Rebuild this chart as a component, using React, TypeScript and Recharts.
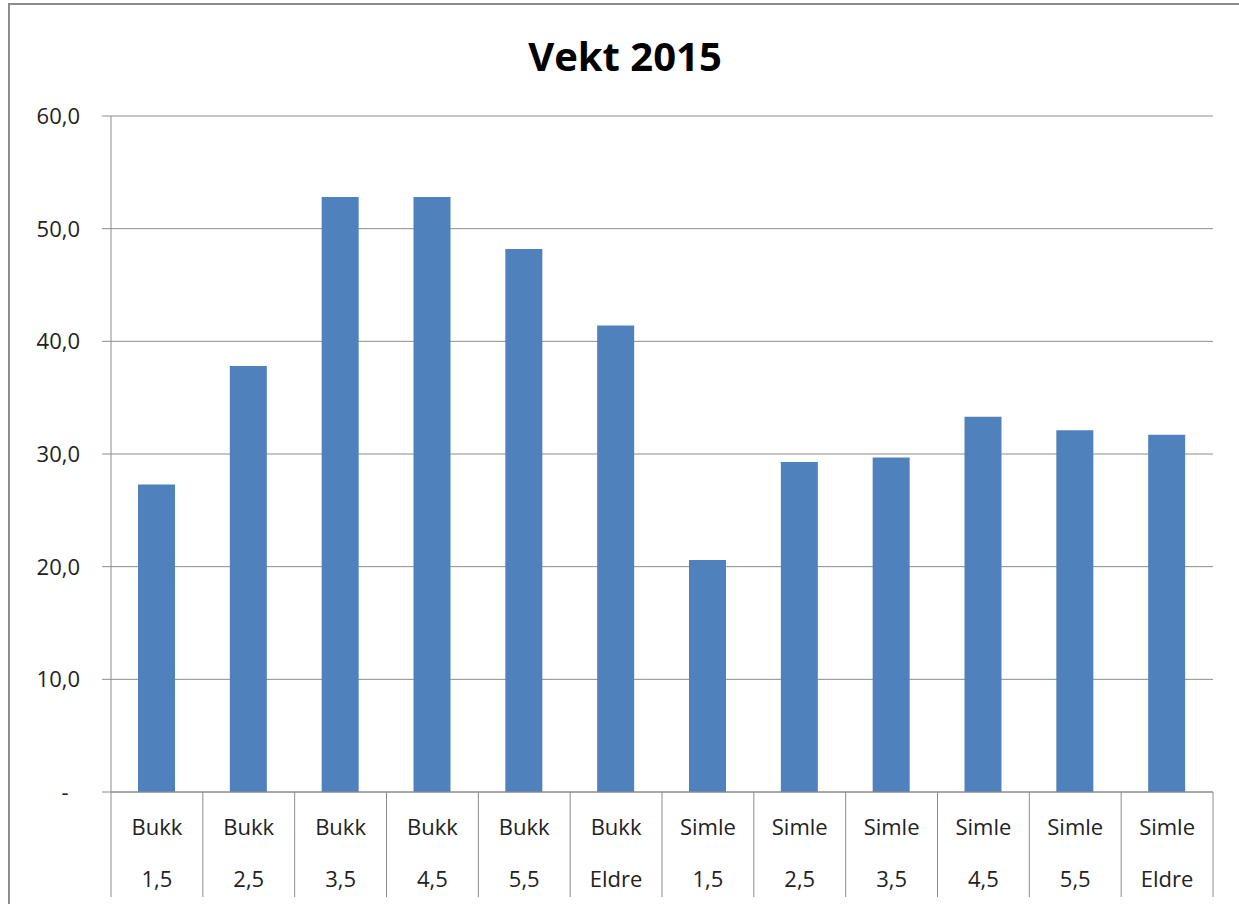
import { BarChart, Bar, XAxis, YAxis, CartesianGrid } from 'recharts'

const groups = ['Bukk', 'Bukk', 'Bukk', 'Bukk', 'Bukk', 'Bukk', 'Simle', 'Simle', 'Simle', 'Simle', 'Simle', 'Simle']
const ages = ['1,5', '2,5', '3,5', '4,5', '5,5', 'Eldre', '1,5', '2,5', '3,5', '4,5', '5,5', 'Eldre']
const weights = [27.3, 37.8, 52.8, 52.8, 48.2, 41.4, 20.6, 29.3, 29.7, 33.3, 32.1, 31.7]
const yTicks = [0, 10, 20, 30, 40, 50, 60]

const data = groups.map((g, i) => ({ key: `${g} ${ages[i]}`, group: g, age: ages[i], vekt: weights[i] }))

const FONT = '"Open Sans", "Noto Sans", sans-serif'
const GRID = '#8c8c8c'

function CategoryTick({ x, y, payload, index }: any) {
  const half = payload?.offset ?? 45.9
  const row = data[index]
  return (
    <g>
      <line x1={x - half} y1={y} x2={x - half} y2={y + 105} stroke={GRID} strokeWidth={1} />
      {index === data.length - 1 && (
        <line x1={x + half} y1={y} x2={x + half} y2={y + 105} stroke={GRID} strokeWidth={1} />
      )}
      <text x={x} y={y + 43} textAnchor="middle" fontSize={22} fontFamily={FONT} fill="#222">
        {row?.group}
      </text>
      <text x={x} y={y + 95} textAnchor="middle" fontSize={22} fontFamily={FONT} fill="#222">
        {row?.age}
      </text>
    </g>
  )
}

function ValueTick({ x, y, payload }: any) {
  const v = payload.value
  if (v === 0) {
    return (
      <text x={x - 15} y={y + 8} textAnchor="middle" fontSize={22} fontFamily={FONT} fill="#222">
        -
      </text>
    )
  }
  return (
    <text x={x} y={y + 8} textAnchor="end" fontSize={22} fontFamily={FONT} fill="#222">
      {v.toFixed(1).replace('.', ',')}
    </text>
  )
}

export default function App() {
  return (
    <div style={{ position: 'absolute', left: 0, top: 0, width: 1239, height: 904, background: '#fff', overflow: 'hidden' }}>
      <div
        style={{
          position: 'absolute',
          left: 8,
          top: 3,
          width: 1240,
          height: 910,
          borderTop: `2px solid ${GRID}`,
          borderLeft: `2px solid ${GRID}`,
        }}
      />
      <div
        style={{
          position: 'absolute',
          left: 0,
          top: 28,
          width: 1250,
          textAlign: 'center',
          fontFamily: FONT,
          fontWeight: 700,
          fontSize: 40,
          color: '#000',
        }}
      >
        Vekt 2015
      </div>
      <div style={{ position: 'absolute', left: 0, top: 0 }}>
        <BarChart width={1239} height={904} data={data} margin={{ top: 116, right: 26, bottom: 7, left: 0 }}>
          <CartesianGrid vertical={false} stroke={GRID} strokeWidth={1} />
          <XAxis
            dataKey="key"
            height={105}
            interval={0}
            tickLine={false}
            tickSize={0}
            tickMargin={0}
            axisLine={{ stroke: GRID }}
            tick={<CategoryTick />}
          />
          <YAxis
            width={111}
            domain={[0, 60]}
            ticks={yTicks}
            tickSize={9}
            tickMargin={22}
            tickLine={{ stroke: GRID }}
            axisLine={{ stroke: GRID }}
            tick={<ValueTick />}
          />
          <Bar dataKey="vekt" fill="#4F81BD" barSize={37} isAnimationActive={false} />
        </BarChart>
      </div>
    </div>
  )
}
